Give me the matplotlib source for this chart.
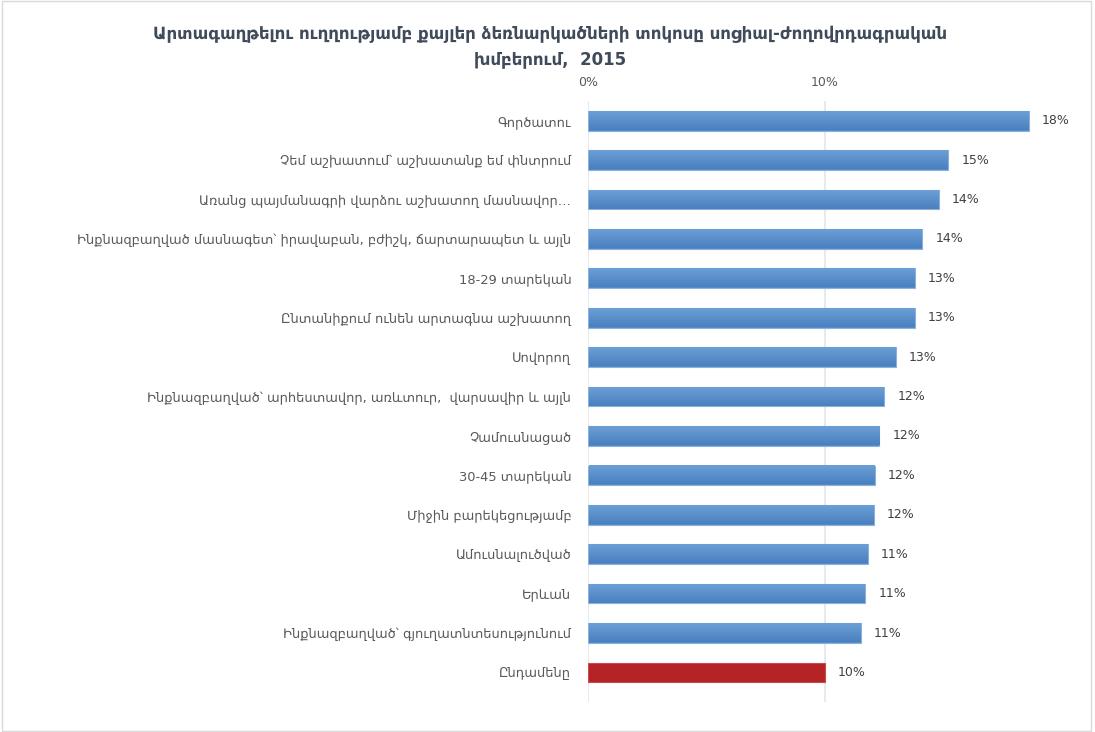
import matplotlib
matplotlib.use("Agg")
import matplotlib.pyplot as plt
import numpy as np
from matplotlib.colors import LinearSegmentedColormap

categories = [
    "Գործատու",
    "Չեմ աշխատում՝ աշխատանք եմ փնտրում",
    "Առանց պայմանագրի վարձու աշխատող մասնավոր…",
    "Ինքնազբաղված մասնագետ՝ իրավաբան, բժիշկ, ճարտարապետ և այլն",
    "18-29 տարեկան",
    "Ընտանիքում ունեն արտագնա աշխատող",
    "Սովորող",
    "Ինքնազբաղված՝ արհեստավոր, առևտուր,  վարսավիր և այլն",
    "Չամուսնացած",
    "30-45 տարեկան",
    "Միջին բարեկեցությամբ",
    "Ամուսնալուծված",
    "Երևան",
    "Ինքնազբաղված՝ գյուղատնտեսությունում",
    "Ընդամենը",
]
values = [18.6, 15.2, 14.8, 14.1, 13.8, 13.8, 13.0, 12.5, 12.3, 12.1, 12.05, 11.8, 11.7, 11.5, 10.0]
value_labels = ["18%", "15%", "14%", "14%", "13%", "13%", "13%", "12%", "12%",
                "12%", "12%", "11%", "11%", "11%", "10%"]
x_ticks = [0, 10]
x_tick_labels = ["0%", "10%"]
title = ("Արտագաղթելու ուղղությամբ քայլեր ձեռնարկածների տոկոսը սոցիալ-ժողովրդագրական\n"
         "խմբերում,  2015")

plt.rcParams['font.family'] = ['DejaVu Sans']

fig = plt.figure(figsize=(10.95, 7.32), dpi=100)
ax = fig.add_axes([588 / 1095, 1 - 702 / 732, (1043 - 588) / 1095, (702 - 101) / 732])

n = len(values)
y = list(range(n))
colors = ["#5089C6"] * (n - 1) + ["#B52326"]
edges = ["#8AB2DD"] * (n - 1) + ["#C94A4C"]
bars = ax.barh(y, values, height=0.5, color=colors, edgecolor=edges, linewidth=0.8, zorder=3)

# vertical gradient on the blue bars
blue_grad = LinearSegmentedColormap.from_list("bg", ["#6C9FD6", "#4A80C0"])
grad = np.linspace(0, 1, 64).reshape(-1, 1)
for rect, c in zip(bars, colors):
    if c != "#5089C6":
        continue
    y0 = rect.get_y()
    y1 = y0 + rect.get_height()
    ax.imshow(grad, cmap=blue_grad, aspect="auto", zorder=3.5,
              extent=(0.03, rect.get_width() - 0.03, y1 - 0.02, y0 + 0.02))

ax.set_ylim(n - 0.5 + 0.25, -0.5)
ax.set_xlim(0, 19.2)
ax.set_yticks(y)
ax.set_yticklabels(categories, fontsize=9.4, color="#595959")
ax.tick_params(axis="y", length=0, pad=12)

ax.xaxis.tick_top()
ax.set_xticks(x_ticks)
ax.set_xticklabels(x_tick_labels, fontsize=9, color="#595959")
ax.tick_params(axis="x", length=0, pad=9)
ax.grid(axis="x", color="#E3E6EA", linewidth=1.2, zorder=0)

for s in ax.spines.values():
    s.set_visible(False)

for rect, lab in zip(bars, value_labels):
    ax.text(rect.get_width() + 0.55, rect.get_y() + rect.get_height() / 2, lab,
            ha="left", va="center", fontsize=9, color="#404040", zorder=5)

fig.text(550 / 1095, 1 - 47 / 732, title, ha="center", va="center",
         fontsize=12, fontweight="bold", color="#3F4A5A", linespacing=1.5)

fig.patches.append(plt.Rectangle((0.002, 0.002), 0.994, 0.996, transform=fig.transFigure,
                                 fill=False, edgecolor="#D9D9D9", linewidth=1))

fig.savefig("out.png", dpi=100)
